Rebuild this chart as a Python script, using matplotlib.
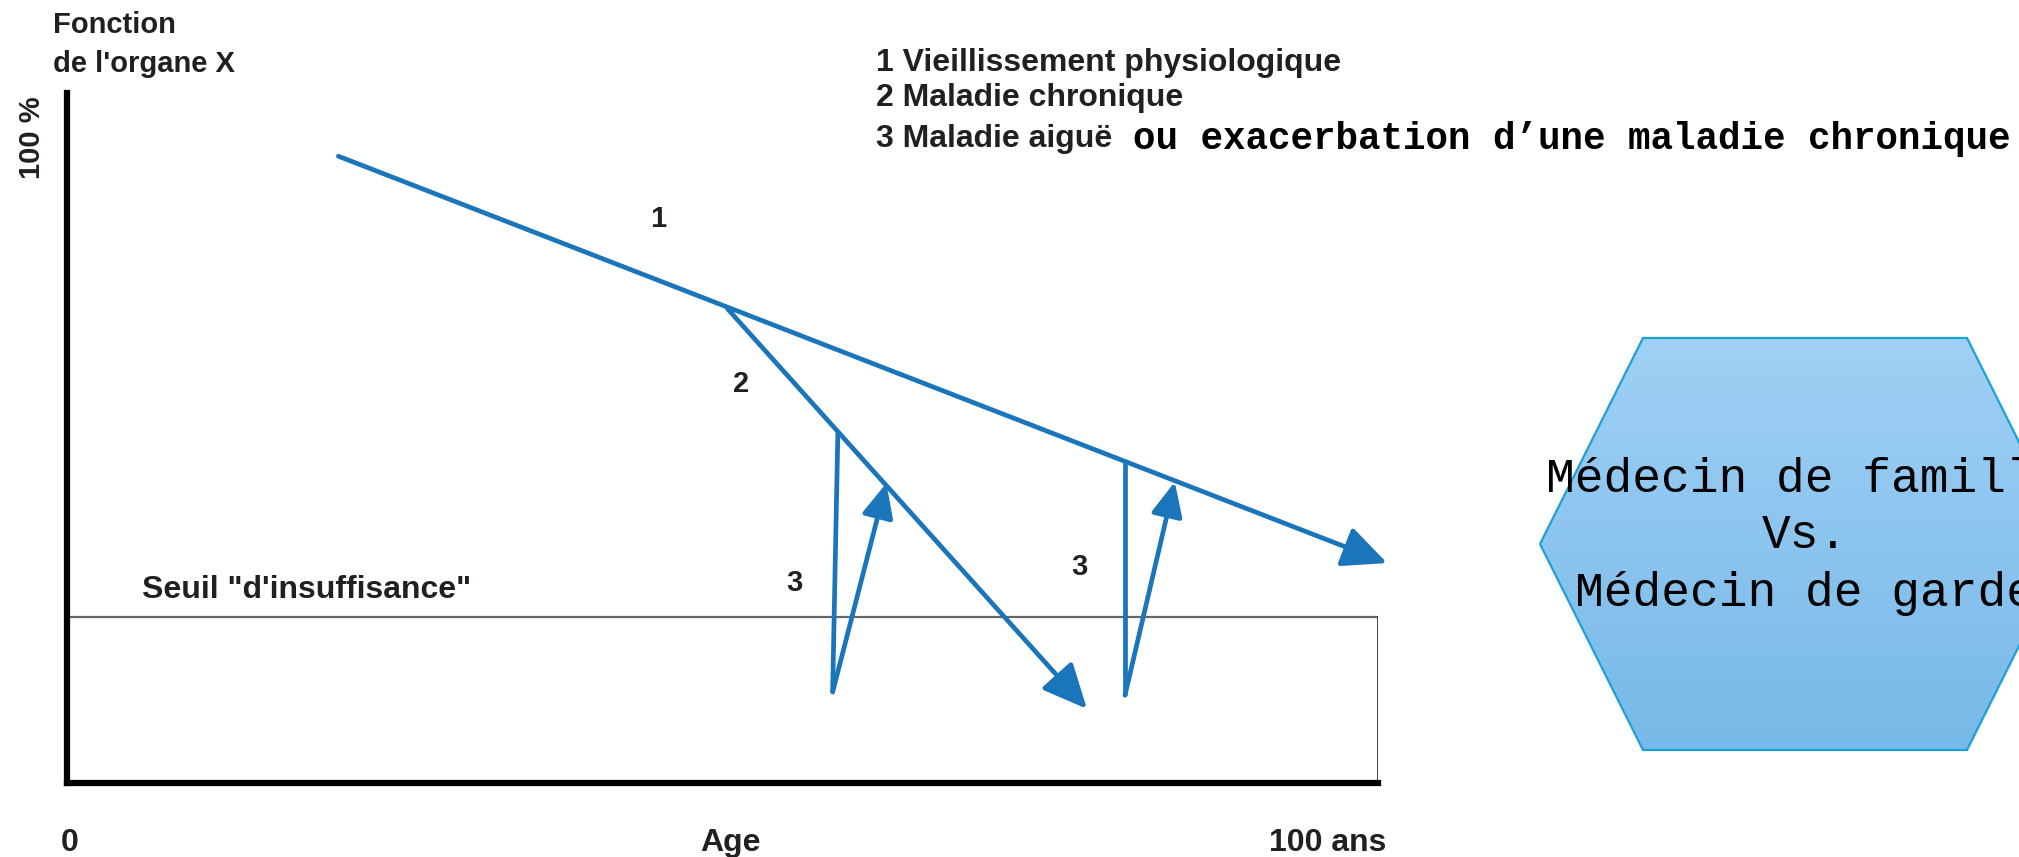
import numpy as np
import matplotlib.pyplot as plt
from matplotlib.patches import Polygon
from matplotlib.colors import LinearSegmentedColormap

# trajectories: age (years) vs organ function (%)
aging_x = [20.7, 100.7]
aging_y = [97.2, 34.1]
chronic_x = [50.4, 77.8]
chronic_y = [73.5, 11.5]

# acute episodes: sudden drop then partial recovery
drop_top_x = [58.8, 80.7]
drop_top_y = [54.4, 49.8]
drop_bottom_x = [58.4, 80.7]
drop_bottom_y = [14.1, 13.6]
recovery_x = [62.5, 84.5]
recovery_y = [46.5, 46.7]

threshold = 25.7

curve_labels = ['1', '2', '3', '3']
curve_label_x = [45.1, 51.4, 55.5, 77.2]
curve_label_y = [87.4, 61.9, 31.0, 33.5]

axis_labels = ['0', 'Age', '100 ans']
axis_label_x = [0.2, 50.6, 96.2]

legend_items = ['1 Vieillissement physiologique', '2 Maladie chronique', '3 Maladie aiguë']
legend_extra = 'ou exacerbation d\u2019une maladie chronique'
hex_lines = ['Médecin de famille', 'Vs.', 'Médecin de garde']

BLUE = '#1B75BB'
INK = '#231F20'
SANS = 'Liberation Sans'
MONO = 'Liberation Mono'

W, H = 2019, 857
fig = plt.figure(figsize=(W / 100, H / 100), dpi=100)

# full-figure canvas in pixel units for the surrounding annotations
canvas = fig.add_axes([0, 0, 1, 1])
canvas.set_xlim(0, W)
canvas.set_ylim(H, 0)
canvas.axis('off')

# main chart
x0, x1, y0, y1 = 67, 1378, 783, 93
ax = fig.add_axes([x0 / W, (H - y0) / H, (x1 - x0) / W, (y0 - y1) / H])
ax.set_facecolor('none')
ax.set_xlim(0, 100)
ax.set_ylim(0, 107)
for side in ['top', 'right']:
    ax.spines[side].set_visible(False)
for side in ['left', 'bottom']:
    ax.spines[side].set_linewidth(4.5)
    ax.spines[side].set_color('black')
ax.set_xticks([])
ax.set_yticks([])

# threshold box
ax.plot([0, 100], [threshold, threshold], color='#666666', lw=1.6)
ax.plot([100, 100], [threshold, 0], color='#444444', lw=1.4)
ax.text(5.7, 28.7, 'Seuil "d\'insuffisance"', fontsize=23, fontweight='bold',
        family=SANS, color=INK, va='baseline')


def arrow(xs, ys, scale):
    ax.annotate('', xy=(xs[1], ys[1]), xytext=(xs[0], ys[0]),
                annotation_clip=False,
                arrowprops=dict(arrowstyle='-|>,head_length=0.65,head_width=0.3',
                                color=BLUE, lw=3.4, mutation_scale=scale,
                                shrinkA=0, shrinkB=0))


arrow(aging_x, aging_y, 42)
arrow(chronic_x, chronic_y, 42)
for i in range(len(drop_top_x)):
    ax.plot([drop_top_x[i], drop_bottom_x[i]], [drop_top_y[i], drop_bottom_y[i]],
            color=BLUE, lw=3.4, solid_capstyle='butt')
    arrow([drop_bottom_x[i], recovery_x[i]], [drop_bottom_y[i], recovery_y[i]], 32)

for lab, lx, ly in zip(curve_labels, curve_label_x, curve_label_y):
    ax.text(lx, ly, lab, fontsize=21, fontweight='bold', family=SANS,
            color=INK, ha='center', va='center')

for lab, lx in zip(axis_labels, axis_label_x):
    ax.text(lx, -9.3, lab, fontsize=23, fontweight='bold', family=SANS,
            color=INK, ha='center', va='center', clip_on=False)

# y axis title
canvas.text(53, 33, 'Fonction', fontsize=21, fontweight='bold', family=SANS,
            color=INK, va='baseline')
canvas.text(53, 72, "de l'organe X", fontsize=21, fontweight='bold', family=SANS,
            color=INK, va='baseline')
canvas.text(32, 138, '100 %', fontsize=21, fontweight='bold', family=SANS,
            color=INK, rotation=90, ha='center', va='center')

# legend
legend_y = [63, 98, 139]
for item, ly in zip(legend_items, legend_y):
    canvas.text(876, ly, item, fontsize=23, fontweight='bold', family=SANS,
                color=INK, va='center')
canvas.text(1133, legend_y[-1], legend_extra, fontsize=27, fontweight='bold',
            family=MONO, color='black', va='center')

# hexagon
cx, cy, rx, tx, ry = 1805, 544, 265, 162, 206
verts = [(cx - rx, cy), (cx - tx, cy - ry), (cx + tx, cy - ry),
         (cx + rx, cy), (cx + tx, cy + ry), (cx - tx, cy + ry)]
hexagon = Polygon(verts, closed=True, facecolor='none', edgecolor='#1E9FD6', lw=1.6)
canvas.add_patch(hexagon)
grad_cmap = LinearSegmentedColormap.from_list('hexfill', ['#A0D0F5', '#77B9E8'])
img = canvas.imshow(np.linspace(0, 1, 256).reshape(-1, 1), cmap=grad_cmap,
                    extent=[cx - rx, cx + rx, cy + ry, cy - ry], aspect='auto',
                    origin='upper', zorder=1)
img.set_clip_path(hexagon)
hexagon.set_zorder(2)
canvas.set_xlim(0, W)
canvas.set_ylim(H, 0)

for line, by in zip(hex_lines, [492, 548, 606]):
    canvas.text(cx, by, line, fontsize=34.5, family=MONO, color='black',
                ha='center', va='baseline', zorder=3)

fig.savefig('out.png', dpi=100)
